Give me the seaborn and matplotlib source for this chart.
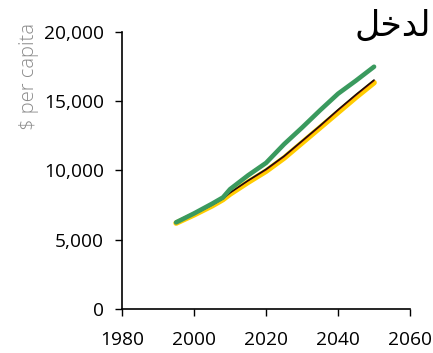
import pandas as pd
import seaborn as sns
import matplotlib.pyplot as plt

years = [1995, 2000, 2005, 2008, 2010, 2015, 2020, 2025, 2030, 2035, 2040, 2045, 2050]
yellow = [6200, 6800, 7450, 7900, 8300, 9150, 9950, 10900, 12000, 13100, 14200, 15300, 16350]
red = [6220, 6830, 7500, 7950, 8380, 9250, 10050, 11000, 12100, 13200, 14350, 15450, 16500]
black = [6230, 6840, 7520, 7970, 8400, 9280, 10100, 11050, 12150, 13250, 14400, 15500, 16550]
green = [6250, 6900, 7600, 8050, 8650, 9650, 10550, 11900, 13100, 14350, 15550, 16500, 17500]

title = "لدخل"
# matplotlib has no Arabic shaping, so show the word in joined presentation forms
title_shown = "\ufede\ufea7\ufeaa\ufedf"

df = pd.DataFrame({"year": years * 4,
                   "value": yellow + red + black + green,
                   "series": ["yellow"] * 13 + ["red"] * 13 + ["black"] * 13 + ["green"] * 13})

sns.set_style("ticks")
plt.rcParams['font.family'] = ['Open Sans', 'DejaVu Sans']

fig = plt.figure(figsize=(4.33, 3.53), dpi=100)
ax = fig.add_axes([0.282, 0.125, 0.665, 0.784])

colors = {"yellow": "#FFCC00", "red": "#A00000", "black": "#111111", "green": "#3A9A5E"}
widths = {"yellow": 4.0, "red": 1.0, "black": 1.0, "green": 3.3}
for name in ["yellow", "red", "black", "green"]:
    sns.lineplot(data=df[df.series == name], x="year", y="value", color=colors[name],
                 lw=widths[name], ax=ax, legend=False, solid_joinstyle='round')

ax.set_xlim(1980, 2060)
ax.set_ylim(0, 20000)
ax.set_xticks([1980, 2000, 2020, 2040, 2060])
ax.set_yticks([0, 5000, 10000, 15000, 20000])
ax.set_yticklabels(["0", "5,000", "10,000", "15,000", "20,000"])
ax.tick_params(direction='out', length=5, width=1, colors='black', labelsize=13.8)
ax.tick_params(axis='x', pad=11)
ax.tick_params(axis='y', pad=8)
sns.despine(ax=ax)
for s in ["left", "bottom"]:
    ax.spines[s].set_color("black")
    ax.spines[s].set_linewidth(1.2)
ax.set_xlabel("")
ax.set_ylabel("$ per capita", color="#8a8a8a", fontsize=14.5, fontweight="light")
ax.yaxis.set_label_coords(-0.29, 0.84)

fig.text(0.995, 0.975, title_shown, ha='right', va='top', fontsize=25,
         color='black', family=['DejaVu Sans'])

fig.savefig("out.png", dpi=100)
